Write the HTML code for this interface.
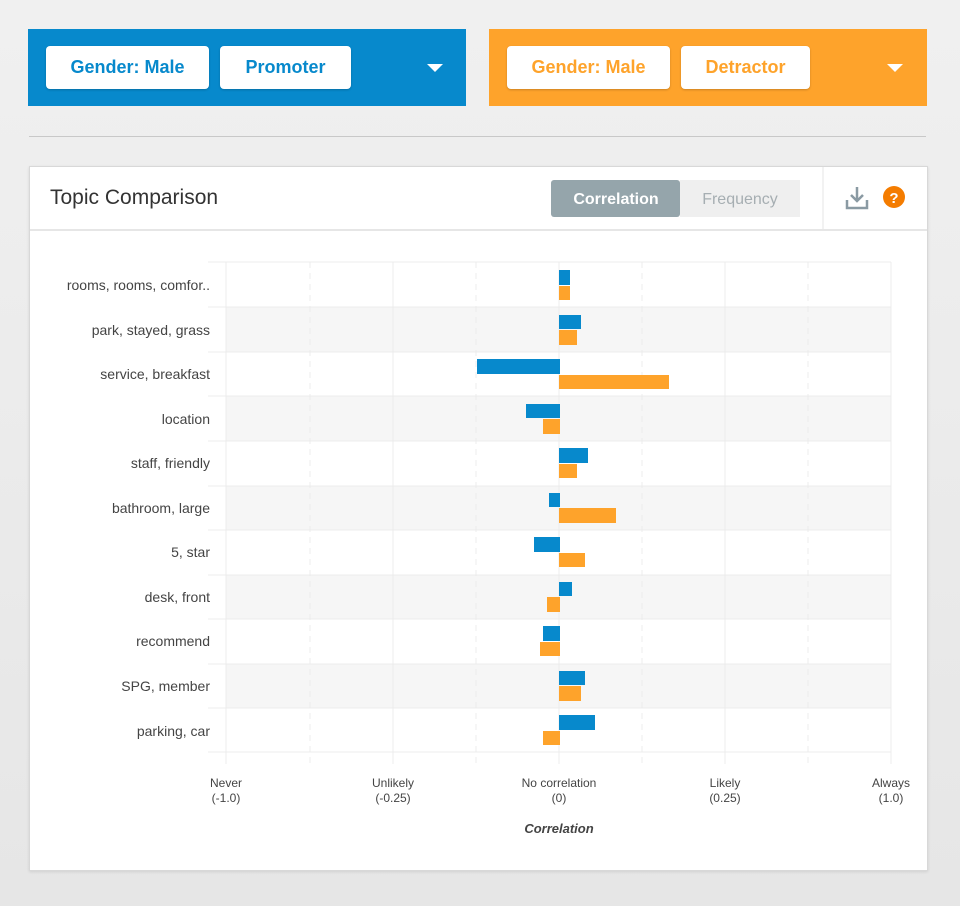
<!DOCTYPE html>
<html><head><style>
body{margin:0;width:960px;height:906px;background:linear-gradient(#f0f0f0,#e6e6e6);font-family:"Liberation Sans",sans-serif;overflow:hidden;position:relative}
.bar{position:absolute;top:29px;height:77px;width:438px}
.btn{position:absolute;top:17px;height:43px;background:#fff;border-radius:4px;font-size:18px;font-weight:bold;line-height:43px;text-align:center;box-shadow:0 1px 2px rgba(0,0,0,.2)}
.tri{position:absolute;top:35px;width:0;height:0;border-left:8px solid transparent;border-right:8px solid transparent;border-top:8px solid #fff}
</style></head><body>
<div class="bar" style="left:28px;background:#0789cc">
 <div class="btn" style="left:18px;width:163px;color:#0789cc">Gender: Male</div>
 <div class="btn" style="left:192px;width:131px;color:#0789cc">Promoter</div>
 <div class="tri" style="left:399px"></div>
</div>
<div class="bar" style="left:489px;background:#fea32b">
 <div class="btn" style="left:18px;width:163px;color:#fea32b">Gender: Male</div>
 <div class="btn" style="left:192px;width:129px;color:#fea32b">Detractor</div>
 <div class="tri" style="left:398px"></div>
</div>
<div style="position:absolute;left:29px;top:136px;width:897px;height:1px;background:#c8c8c8"></div>
<div style="position:absolute;left:29px;top:166px;width:897px;height:703px;background:#fff;border:1px solid #d8d8d8;box-shadow:0 1px 3px rgba(0,0,0,.1)"></div>
<svg width="960" height="906" style="position:absolute;left:0;top:0" font-family="Liberation Sans, sans-serif">
<line x1="30" y1="230" x2="927" y2="230" stroke="#e6e6e6" stroke-width="2"/>
<line x1="823" y1="167" x2="823" y2="230" stroke="#e6e6e6"/>
<text x="50" y="204" font-size="21" fill="#333">Topic Comparison</text>
<rect x="551" y="180" width="129" height="37" rx="3" fill="#95a5ab"/>
<rect x="680" y="180" width="120" height="37" fill="#efefef"/>
<text x="616" y="204" font-size="16" fill="#fff" text-anchor="middle" font-weight="bold">Correlation</text>
<text x="740" y="204" font-size="16" fill="#a6aeb2" text-anchor="middle">Frequency</text>
<path d="M857 187v13M851 195l6 6 6-6M847 200v8h20v-8" stroke="#8a9aa3" stroke-width="2.5" fill="none"/>
<circle cx="894" cy="197" r="11" fill="#f47c00"/>
<text x="894" y="203" font-size="15" font-weight="bold" fill="#fff" text-anchor="middle">?</text>
<g fill="#f6f6f6">
<rect x="226" y="307" width="665" height="45"/><rect x="226" y="396" width="665" height="45"/><rect x="226" y="486" width="665" height="44"/><rect x="226" y="575" width="665" height="44"/><rect x="226" y="664" width="665" height="44"/>
</g>
<g stroke="#ececec">
<line x1="208" y1="262" x2="891" y2="262"/><line x1="208" y1="307" x2="891" y2="307"/><line x1="208" y1="352" x2="891" y2="352"/><line x1="208" y1="396" x2="891" y2="396"/><line x1="208" y1="441" x2="891" y2="441"/><line x1="208" y1="486" x2="891" y2="486"/><line x1="208" y1="530" x2="891" y2="530"/><line x1="208" y1="575" x2="891" y2="575"/><line x1="208" y1="619" x2="891" y2="619"/><line x1="208" y1="664" x2="891" y2="664"/><line x1="208" y1="708" x2="891" y2="708"/><line x1="208" y1="752" x2="891" y2="752"/>
<line x1="226" y1="262" x2="226" y2="764"/><line x1="393" y1="262" x2="393" y2="764"/><line x1="559" y1="262" x2="559" y2="764"/><line x1="725" y1="262" x2="725" y2="764"/><line x1="891" y1="262" x2="891" y2="764"/>
<g stroke-dasharray="6,5"><line x1="310" y1="262" x2="310" y2="764"/><line x1="476" y1="262" x2="476" y2="764"/><line x1="642" y1="262" x2="642" y2="764"/><line x1="808" y1="262" x2="808" y2="764"/></g>
</g>
<g fill="#0789cc">
<rect x="559" y="270" width="11" height="15"/><rect x="559" y="315" width="22" height="14"/><rect x="477" y="359" width="83" height="15"/><rect x="526" y="404" width="34" height="14"/><rect x="559" y="448" width="29" height="15"/><rect x="549" y="493" width="11" height="14"/><rect x="534" y="537" width="26" height="15"/><rect x="559" y="582" width="13" height="14"/><rect x="543" y="626" width="17" height="15"/><rect x="559" y="671" width="26" height="14"/><rect x="559" y="715" width="36" height="15"/>
</g>
<g fill="#fea32b">
<rect x="559" y="286" width="11" height="14"/><rect x="559" y="330" width="18" height="15"/><rect x="559" y="375" width="110" height="14"/><rect x="543" y="419" width="17" height="15"/><rect x="559" y="464" width="18" height="14"/><rect x="559" y="508" width="57" height="15"/><rect x="559" y="553" width="26" height="14"/><rect x="547" y="597" width="13" height="15"/><rect x="540" y="642" width="20" height="14"/><rect x="559" y="686" width="22" height="15"/><rect x="543" y="731" width="17" height="14"/>
</g>
<g font-size="14" fill="#444" text-anchor="end">
<text x="210" y="290">rooms, rooms, comfor..</text><text x="210" y="335">park, stayed, grass</text><text x="210" y="379">service, breakfast</text><text x="210" y="424">location</text><text x="210" y="468">staff, friendly</text><text x="210" y="513">bathroom, large</text><text x="210" y="557">5, star</text><text x="210" y="602">desk, front</text><text x="210" y="646">recommend</text><text x="210" y="691">SPG, member</text><text x="210" y="736">parking, car</text>
</g>
<g font-size="12" fill="#444" text-anchor="middle">
<text x="226" y="787">Never</text><text x="226" y="802">(-1.0)</text>
<text x="393" y="787">Unlikely</text><text x="393" y="802">(-0.25)</text>
<text x="559" y="787">No correlation</text><text x="559" y="802">(0)</text>
<text x="725" y="787">Likely</text><text x="725" y="802">(0.25)</text>
<text x="891" y="787">Always</text><text x="891" y="802">(1.0)</text>
<text x="559" y="833" font-style="italic" font-weight="bold" font-size="13">Correlation</text>
</g>
</svg>
</body></html>
